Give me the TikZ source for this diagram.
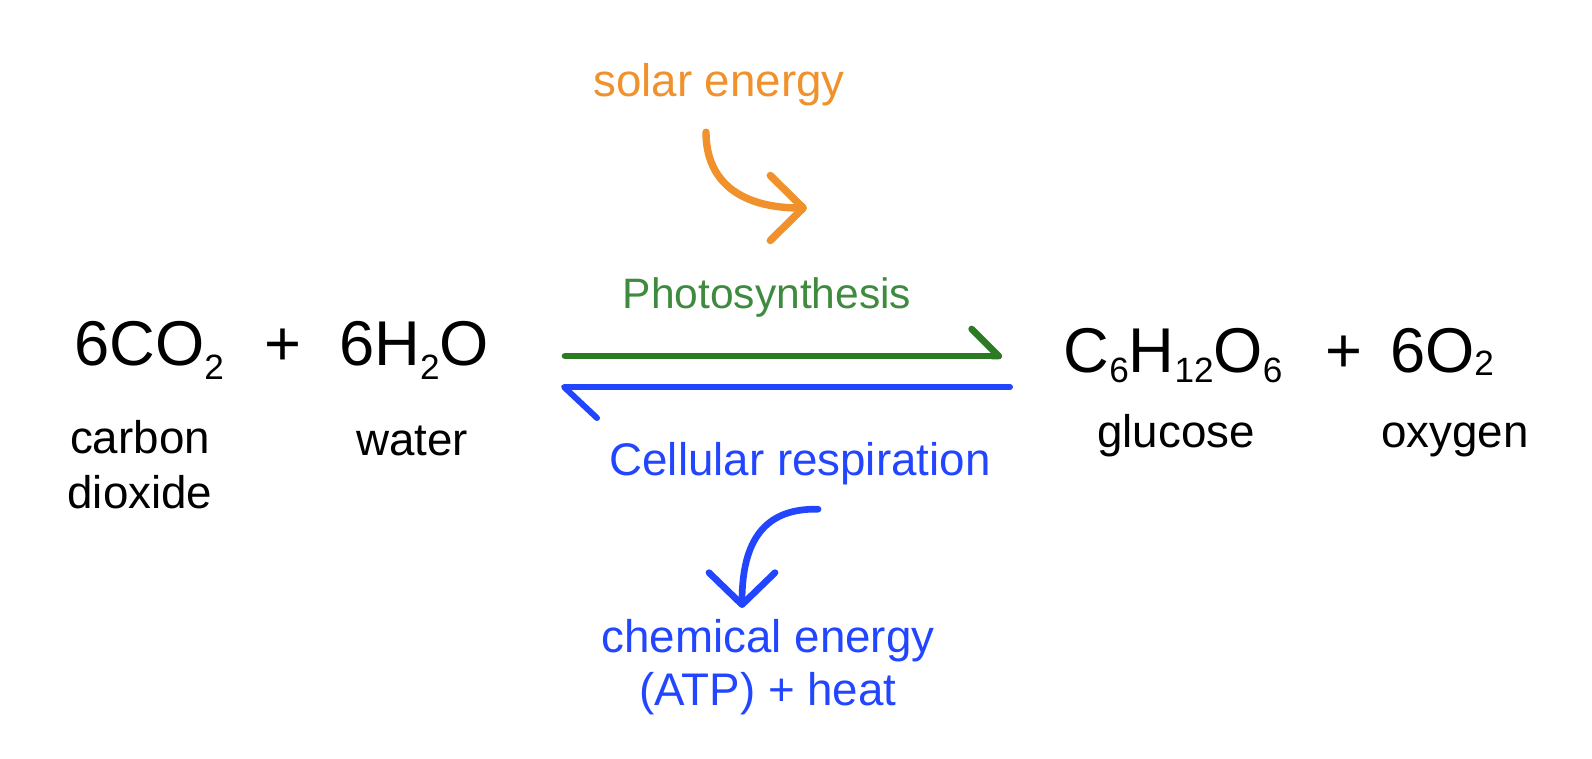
\documentclass[tikz,border=0pt]{standalone}
\usepackage{fontspec}
\setmainfont{Liberation Sans}
\usetikzlibrary{arrows.meta}
\definecolor{solarorange}{HTML}{F0912C}
\definecolor{photogreen}{HTML}{2C7A22}
\definecolor{phototext}{HTML}{3E8A3E}
\definecolor{respblue}{HTML}{2246FF}
\newcommand{\chsub}[2][3pt]{\raisebox{-#1}{\fontsize{10}{10}\selectfont #2}}
\tikzstyle{formula}=[font=\fontsize{18}{20}\selectfont, anchor=base, inner sep=0pt]
\tikzstyle{substance}=[font=\fontsize{13}{15.6}\selectfont, anchor=base, inner sep=0pt, align=center]
\tikzstyle{energytext}=[font=\fontsize{13}{14.8}\selectfont, anchor=base, inner sep=0pt, align=center]
\tikzstyle{processtext}=[font=\fontsize{12.1}{14}\selectfont, anchor=base, inner sep=0pt]
\tikzstyle{photoarrow}=[draw=photogreen, line width=1.9pt, line cap=round, -{Straight Barb[left, round, length=2.7mm, width=5.4mm]}]
\tikzstyle{resparrow}=[draw=respblue, line width=1.7pt, line cap=round, -{Straight Barb[left, round, length=3.3mm, width=6.2mm]}]
\tikzstyle{sunarrow}=[draw=solarorange, line width=2.1pt, line cap=round, -{Straight Barb[round, length=3.3mm, width=6.5mm]}]
\tikzstyle{heatarrow}=[draw=respblue, line width=1.9pt, line cap=round, -{Straight Barb[round, length=3.2mm, width=6.6mm]}]

\begin{document}
\begin{tikzpicture}[x=0.01cm, y=-0.01cm]
    \useasboundingbox (0,0) rectangle (1592,758);
    % First the formulas of the reaction
    \foreach \pos/\name/\chem in {{(149,365)/co2/6CO\chsub[4pt]{2}}, {(283,365)/plusL/+}, {(414,365)/h2o/6H\chsub[4pt]{2}O},
    {(1173,372)/glucoseF/C\chsub{6}H\chsub{12}O\chsub{6}}, {(1344,372)/plusR/+}, {(1442,372)/o2/6O\chsub[1pt]{2}}}
        \node[formula] (\name) at \pos {\chem};

    % names under the formulas (multi-line ones sit on their last line)
    \foreach \pos/\name/\chem in {{(140,508)/carbon/carbon\\dioxide}, {(412,455)/water/water},
    {(1176,447)/glucose/glucose}, {(1455,447)/oxygen/oxygen}}
        \node[substance] (\name) at \pos {\chem};

    % energy and process texts
    \node[energytext, text=solarorange] (solar) at (719,97) {solar energy};
    \node[processtext, text=phototext] (photo) at (767,308) {Photosynthesis};
    \node[energytext, text=respblue] (resp) at (800,475) {Cellular respiration};
    \node[energytext, text=respblue] (chemE) at (768,705) {chemical energy\\(ATP) + heat};

    \coordinate (photoStart) at (565,356);
    \coordinate (photoEnd) at (1002,356);
    \coordinate (respStart) at (1010,387);
    \coordinate (respEnd) at (561,387);
    \coordinate (sunIn) at (807,208);
    \coordinate (heatOut) at (742,608);

    % Connect with the arrows
    \draw[photoarrow] (photoStart) -- (photoEnd);
    \draw[resparrow] (respStart) -- (respEnd);
    \draw[sunarrow] ([xshift=-0.13cm, yshift=-0.25cm]solar.south) .. controls (706,185) and (745,208) .. (sunIn);
    \draw[heatarrow] ([xshift=0.18cm, yshift=-0.24cm]resp.south) .. controls (765,508) and (742,540) .. (heatOut);
\end{tikzpicture}
\end{document}
